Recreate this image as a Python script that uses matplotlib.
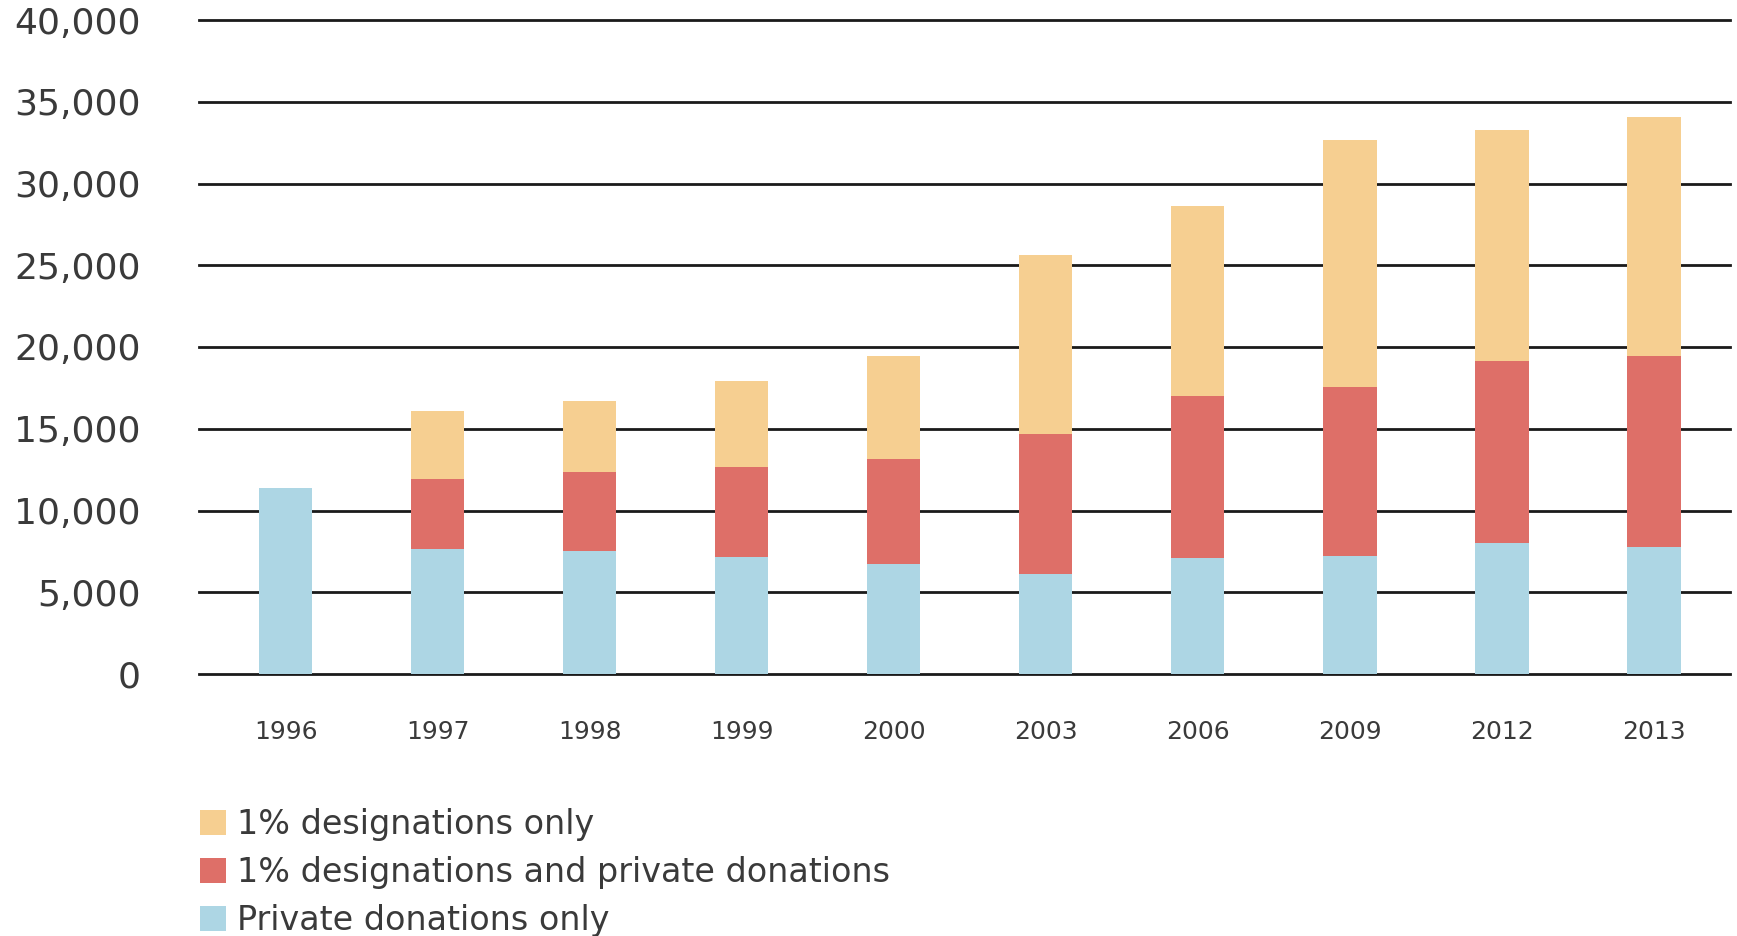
import matplotlib
matplotlib.use("Agg")
import matplotlib.pyplot as plt
import numpy as np

years = ["1996", "1997", "1998", "1999", "2000", "2003", "2006", "2009", "2012", "2013"]
private_only = [11350, 7670, 7540, 7130, 6740, 6130, 7090, 7210, 8030, 7770]
both = [0, 4240, 4810, 5510, 6430, 8540, 9900, 10340, 11130, 11670]
designation_only = [0, 4190, 4360, 5260, 6290, 10970, 11650, 15140, 14090, 14610]
yticks = [0, 5000, 10000, 15000, 20000, 25000, 30000, 35000, 40000]

c_yellow = "#F6CF91"
c_red = "#DE6F68"
c_blue = "#ADD6E4"
txt = "#3a3a3a"

plt.rcParams['font.family'] = ['DejaVu Sans']

fig = plt.figure(figsize=(17.37, 9.36), dpi=100)
ax = fig.add_axes([199/1737, 1-674/936, (1730-199)/1737, (674-20)/936])

x = np.arange(len(years))
w = 0.35
p = np.array(private_only)
b = np.array(both)
d = np.array(designation_only)
h1 = ax.bar(x, p, w, color=c_blue, zorder=3, label="Private donations only")
h2 = ax.bar(x, b, w, bottom=p, color=c_red, zorder=3, label="1% designations and private donations")
h3 = ax.bar(x, d, w, bottom=p + b, color=c_yellow, zorder=3, label="1% designations only")

ax.set_ylim(0, 40000)
ax.set_xlim(-0.57, 9.5)
ax.set_yticks(yticks)
ax.set_yticklabels([f"{v:,}" for v in yticks], fontsize=26, color=txt)
ax.set_xticks(x)
ax.set_xticklabels(years, fontsize=18, color=txt)
for yv in yticks:
    ax.axhline(yv, color="#1a1a1a", lw=2.0, zorder=1, clip_on=False)
for s in ax.spines.values():
    s.set_visible(False)
ax.tick_params(axis='y', length=0, pad=42)
ax.tick_params(axis='x', length=0, pad=33)

leg = fig.legend([h3, h2, h1],
                 ["1% designations only", "1% designations and private donations", "Private donations only"],
                 loc='upper left', bbox_to_anchor=(200/1737, 1-808/936),
                 frameon=False, fontsize=24, handlelength=0.77, handleheight=0.75,
                 handletextpad=0.35, labelspacing=0.45, borderpad=0, borderaxespad=0)
for t in leg.get_texts():
    t.set_color(txt)

fig.savefig("out.png", dpi=100)
